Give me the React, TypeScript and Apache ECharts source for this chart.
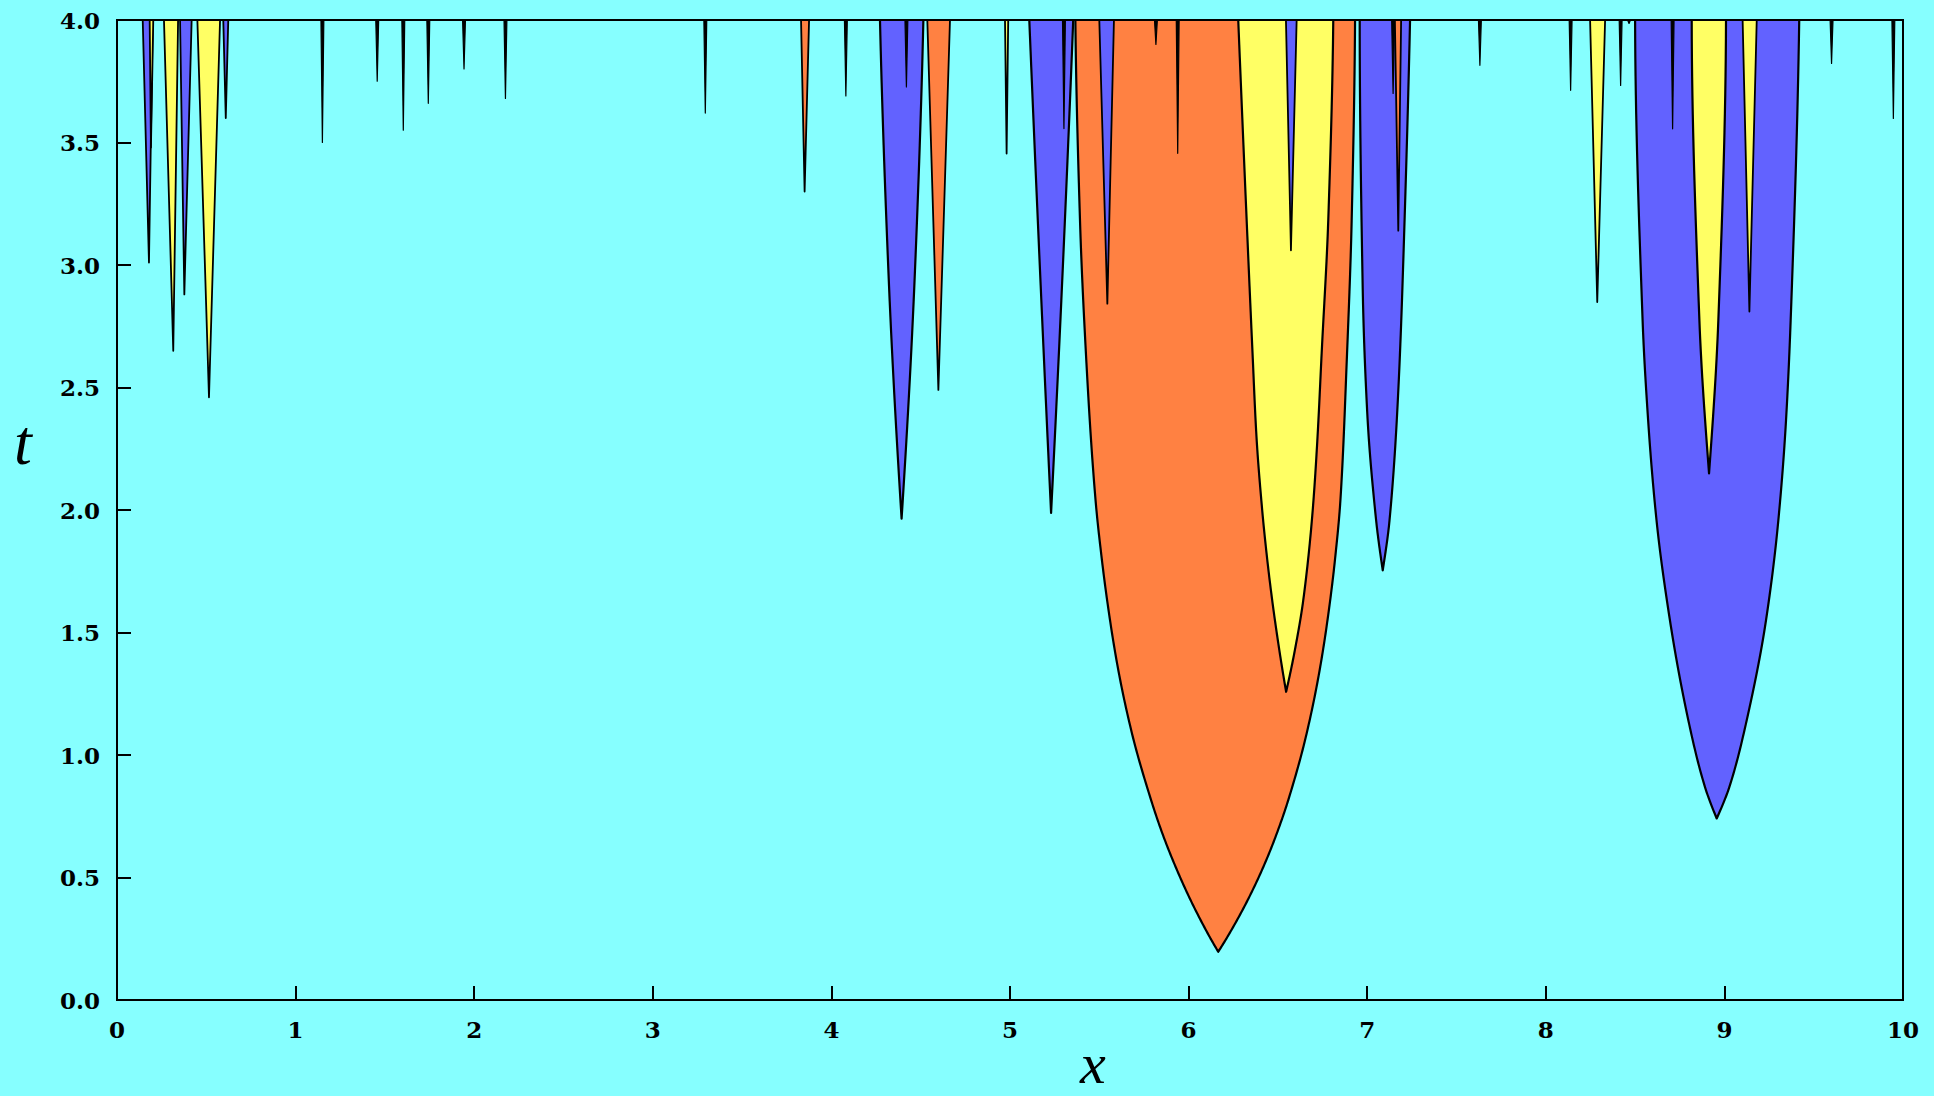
import React, { useEffect, useRef } from "react";
import * as echarts from "echarts";

type Pt = [number, number];

// ---- axis ticks ----
const X_MIN = 0;
const X_MAX = 10;
const X_STEP = 1;
const T_MIN = 0;
const T_MAX = 4;
const T_STEP = 0.5;

// ---- colours ----
const BG = "#86FFFF";
const BLUE = "#6262FF";
const ORANGE = "#FF8142";
const YELLOW = "#FFFF64";

// ---- curved regions: edges, [x, t], tip first, up to t = 4 ----
const orangeMainLeft: Pt[] = [
  [6.166, 0.197], [6.107, 0.272], [6.011, 0.408], [5.927, 0.544], [5.853, 0.68],
  [5.79, 0.816], [5.683, 1.088], [5.603, 1.36], [5.55, 1.6], [5.514, 1.8],
  [5.479, 2.04], [5.428, 2.6], [5.392, 3.18], [5.366, 4.0],
];
const orangeMainRight: Pt[] = [
  [6.166, 0.197], [6.229, 0.272], [6.331, 0.408], [6.419, 0.544], [6.494, 0.68],
  [6.558, 0.816], [6.661, 1.088], [6.737, 1.36], [6.787, 1.6], [6.82, 1.8],
  [6.85, 2.04], [6.885, 2.6], [6.913, 3.18], [6.932, 4.0],
];
const yellowInOrangeLeft: Pt[] = [
  [6.546, 1.258], [6.508, 1.428], [6.468, 1.632], [6.44, 1.8], [6.412, 2.0],
  [6.38, 2.3], [6.358, 2.64], [6.325, 3.184], [6.278, 4.0],
];
const yellowInOrangeRight: Pt[] = [
  [6.546, 1.258], [6.595, 1.428], [6.642, 1.632], [6.695, 2.0], [6.722, 2.3],
  [6.745, 2.64], [6.782, 3.184], [6.81, 4.0],
];
const blueEastLeft: Pt[] = [[7.087, 1.754], [7.05, 1.958], [7.0, 2.4], [6.975, 2.9], [6.958, 4.0]];
const blueEastRight: Pt[] = [[7.087, 1.754], [7.125, 1.958], [7.175, 2.5], [7.21, 3.2], [7.24, 4.0]];
const blueBigLeft: Pt[] = [
  [8.957, 0.741], [8.891, 0.87], [8.798, 1.142], [8.695, 1.55], [8.62, 1.958], [8.573, 2.366], [8.542, 2.774], [8.5, 4.0],
];
const blueBigRight: Pt[] = [
  [8.957, 0.741], [9.028, 0.87], [9.125, 1.142], [9.233, 1.55], [9.302, 1.958], [9.345, 2.366], [9.371, 2.774], [9.419, 4.0],
];
const yellowInBlueLeft: Pt[] = [[8.914, 2.149], [8.86, 2.774], [8.817, 4.0]];
const yellowInBlueRight: Pt[] = [[8.914, 2.149], [8.966, 2.774], [9.009, 4.0]];
const blueFourLeft: Pt[] = [[4.393, 1.965], [4.319, 2.978], [4.272, 4.0]];
const blueFourRight: Pt[] = [[4.393, 1.965], [4.468, 2.978], [4.515, 4.0]];
const blueFiveLeft: Pt[] = [[5.23, 1.988], [5.168, 2.978], [5.108, 4.0]];
const blueFiveRight: Pt[] = [[5.23, 1.988], [5.295, 2.978], [5.354, 4.0]];

// drawing order: outer first
const curvedRegions: [string, Pt[], Pt[]][] = [
  [ORANGE, orangeMainLeft, orangeMainRight],
  [YELLOW, yellowInOrangeLeft, yellowInOrangeRight],
  [BLUE, blueEastLeft, blueEastRight],
  [BLUE, blueBigLeft, blueBigRight],
  [YELLOW, yellowInBlueLeft, yellowInBlueRight],
  [BLUE, blueFourLeft, blueFourRight],
  [BLUE, blueFiveLeft, blueFiveRight],
];

// ---- narrow wedges: colour, tip x, tip t, left x at t=4, right x at t=4 ----
const wedges: [string, number, number, number, number][] = [
  [BLUE, 0.179, 3.01, 0.144, 0.2],
  [YELLOW, 0.19, 3.48, 0.183, 0.203],
  [YELLOW, 0.315, 2.65, 0.263, 0.342],
  [BLUE, 0.377, 2.88, 0.353, 0.418],
  [YELLOW, 0.515, 2.46, 0.45, 0.577],
  [BLUE, 0.609, 3.6, 0.595, 0.623],
  [ORANGE, 3.85, 3.3, 3.83, 3.875],
  [ORANGE, 4.599, 2.49, 4.537, 4.664],
  [YELLOW, 4.981, 3.455, 4.972, 4.99],
  [BLUE, 5.545, 2.842, 5.5, 5.582],
  [BLUE, 6.573, 3.06, 6.545, 6.605],
  [ORANGE, 7.174, 3.14, 7.155, 7.19],
  [YELLOW, 8.288, 2.849, 8.248, 8.332],
  [YELLOW, 9.14, 2.81, 9.102, 9.181],
];

// ---- hair-thin spikes: x and tip t ----
const spikeX = [1.15, 1.457, 1.603, 1.743, 1.943, 2.175, 3.294, 4.081, 4.42, 5.302, 5.817, 5.939, 7.145, 7.631, 8.139, 8.419, 8.466, 8.71, 9.6, 9.946];
const spikeTipT = [3.5, 3.75, 3.55, 3.66, 3.8, 3.68, 3.62, 3.69, 3.727, 3.557, 3.9, 3.456, 3.7, 3.815, 3.713, 3.733, 3.986, 3.556, 3.823, 3.598];

const SPIKE_HALF = 0.008;
const STEPS = 16;

type Shape = { fill: string; left: Pt[]; right: Pt[]; lw: number };

function buildShapes(): Shape[] {
  const out: Shape[] = [];
  curvedRegions.forEach(([c, l, r]) => out.push({ fill: c, left: l, right: r, lw: 2.2 }));
  wedges.forEach(([c, tx, tt, xl, xr]) => {
    out.push({ fill: c, left: [[tx, tt], [xl, T_MAX]], right: [[tx, tt], [xr, T_MAX]], lw: 1.8 });
  });
  spikeX.forEach((x, i) => {
    const tip: Pt = [x, spikeTipT[i]];
    out.push({ fill: "#000", left: [tip, [x - SPIKE_HALF, T_MAX]], right: [tip, [x + SPIKE_HALF, T_MAX]], lw: 1.2 });
  });
  return out;
}

// shape-preserving (monotone cubic) curve x(t) through the edge's points, for drawing only
function smoothEdge(edge: Pt[]): Pt[] {
  const n = edge.length;
  if (n < 3) return edge;
  const t = edge.map((p) => p[1]);
  const x = edge.map((p) => p[0]);
  const h: number[] = [];
  const d: number[] = [];
  for (let i = 0; i < n - 1; i++) {
    h.push(t[i + 1] - t[i]);
    d.push((x[i + 1] - x[i]) / h[i]);
  }
  const m: number[] = new Array(n).fill(0);
  const endSlope = (h0: number, h1: number, d0: number, d1: number) => {
    let s = ((2 * h0 + h1) * d0 - h0 * d1) / (h0 + h1);
    if (Math.sign(s) !== Math.sign(d0)) s = 0;
    else if (Math.sign(d0) !== Math.sign(d1) && Math.abs(s) > 3 * Math.abs(d0)) s = 3 * d0;
    return s;
  };
  m[0] = endSlope(h[0], h[1], d[0], d[1]);
  m[n - 1] = endSlope(h[n - 2], h[n - 3], d[n - 2], d[n - 3]);
  for (let i = 1; i < n - 1; i++) {
    if (d[i - 1] * d[i] <= 0) m[i] = 0;
    else {
      const w1 = 2 * h[i] + h[i - 1];
      const w2 = h[i] + 2 * h[i - 1];
      m[i] = (w1 + w2) / (w1 / d[i - 1] + w2 / d[i]);
    }
  }
  const out: Pt[] = [edge[0]];
  for (let i = 0; i < n - 1; i++) {
    for (let k = 1; k <= STEPS; k++) {
      const s = k / STEPS;
      const s2 = s * s;
      const s3 = s2 * s;
      const h00 = 2 * s3 - 3 * s2 + 1;
      const h10 = s3 - 2 * s2 + s;
      const h01 = -2 * s3 + 3 * s2;
      const h11 = s3 - s2;
      const xv = h00 * x[i] + h10 * h[i] * m[i] + h01 * x[i + 1] + h11 * h[i] * m[i + 1];
      out.push([xv, t[i] + s * h[i]]);
    }
  }
  return out;
}

export default function App() {
  const ref = useRef<HTMLDivElement>(null);
  useEffect(() => {
    if (!ref.current) return;
    const chart = echarts.init(ref.current, null, { renderer: "svg" });
    const shapes = buildShapes();
    const labelFont = { fontFamily: "DejaVu Serif", fontWeight: "bold" as const, fontSize: 23, color: "#000" };
    chart.setOption({
      animation: false,
      backgroundColor: BG,
      grid: {
        left: 117,
        right: 31,
        top: 20,
        bottom: 96,
        show: true,
        borderColor: "#000",
        borderWidth: 2,
        backgroundColor: "transparent",
        containLabel: false,
        outerBoundsMode: "none",
      },
      xAxis: {
        type: "value",
        min: X_MIN,
        max: X_MAX,
        interval: X_STEP,
        axisLine: { show: true, lineStyle: { color: "#000", width: 2 } },
        axisTick: { show: true, inside: true, length: 14, lineStyle: { color: "#000", width: 2 } },
        axisLabel: { ...labelFont, margin: 18 },
        splitLine: { show: false },
      },
      yAxis: {
        type: "value",
        min: T_MIN,
        max: T_MAX,
        interval: T_STEP,
        axisLine: { show: true, lineStyle: { color: "#000", width: 2 } },
        axisTick: { show: true, inside: true, length: 14, lineStyle: { color: "#000", width: 2 } },
        axisLabel: { ...labelFont, margin: 17, formatter: (v: number) => v.toFixed(1) },
        splitLine: { show: false },
      },
      graphic: [
        {
          type: "text",
          left: 1080,
          top: 1034,
          style: { text: "x", font: "italic 58px 'Liberation Serif'", fill: "#000" },
        },
        {
          type: "text",
          left: 14,
          top: 410,
          style: { text: "t", font: "italic 64px 'Liberation Serif'", fill: "#000" },
        },
      ],
      series: [
        {
          type: "custom",
          coordinateSystem: "cartesian2d",
          clip: true,
          silent: true,
          data: shapes.map((s) => s.left[0]),
          renderItem: (params: any, api: any) => {
            const s = shapes[params.dataIndex];
            const leftPx = smoothEdge(s.left).map((p) => api.coord(p)).reverse(); // top -> tip
            const rightPx = smoothEdge(s.right).map((p) => api.coord(p)); // tip -> top
            const all = [...leftPx, ...rightPx.slice(1)];
            const d =
              all.map((p, i) => `${i === 0 ? "M" : "L"} ${p[0].toFixed(2)} ${p[1].toFixed(2)}`).join(" ") + " Z";
            return {
              type: "path",
              shape: { pathData: d },
              style: { fill: s.fill, stroke: "#000", lineWidth: s.lw, lineJoin: "round" },
            };
          },
        },
      ],
    });
    return () => chart.dispose();
  }, []);
  return (
    <div
      ref={ref}
      style={{ position: "fixed", left: 0, top: 0, width: 1934, height: 1096 }}
    />
  );
}
